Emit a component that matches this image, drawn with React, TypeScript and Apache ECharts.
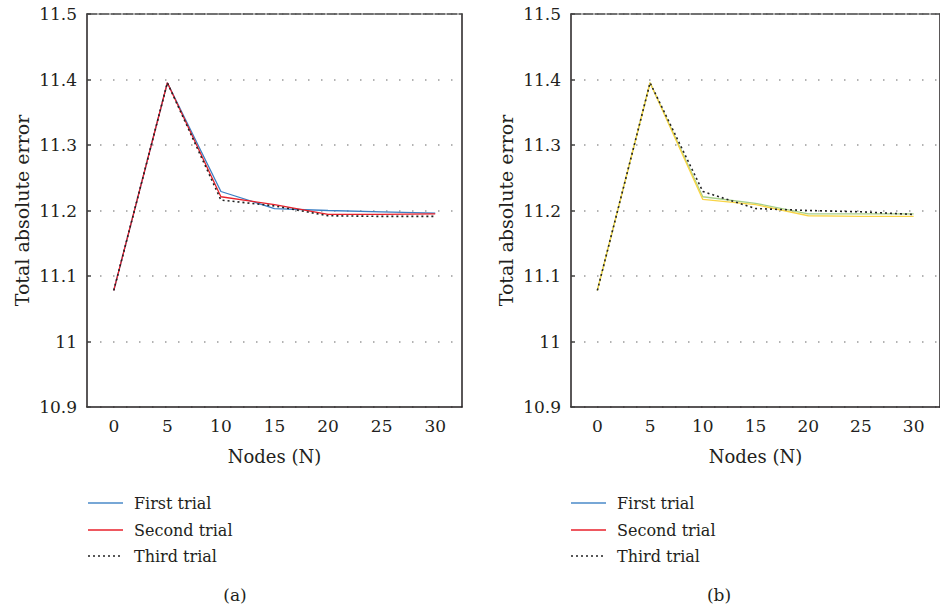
import React, { useEffect, useRef } from "react";
import * as echarts from "echarts";

const nodes = ["0", "5", "10", "15", "20", "25", "30"];
// panel (a)
const aFirst = [11.078, 11.395, 11.229, 11.203, 11.2, 11.198, 11.196];
const aSecond = [11.078, 11.395, 11.221, 11.209, 11.194, 11.194, 11.195];
const aThird = [11.078, 11.395, 11.216, 11.207, 11.192, 11.191, 11.191];
// panel (b)
const bFirst = [11.078, 11.395, 11.221, 11.211, 11.195, 11.195, 11.195];
const bSecond = [11.078, 11.395, 11.217, 11.209, 11.192, 11.191, 11.191];
const bThird = [11.078, 11.395, 11.229, 11.203, 11.2, 11.198, 11.194];

const yMin = 10.9;
const yMax = 11.5;
const yStep = 0.1;
const legendNames = ["First trial", "Second trial", "Third trial"];
const panelLabels = ["(a)", "(b)"];
const xName = "Nodes (N)";
const yName = "Total absolute error";

const FONT = "DejaVu Serif";
const TXT = "#231f20";

export default function App() {
  const ref = useRef<HTMLDivElement>(null);
  useEffect(() => {
    if (!ref.current) return;
    const chart = echarts.init(ref.current, undefined, { renderer: "svg" });
    const grids = [
      { left: 87, top: 14, width: 375, height: 393 },
      { left: 571, top: 14, width: 375, height: 393 },
    ];
    const xAxes: any[] = [];
    const yAxes: any[] = [];
    grids.forEach((g, i) => {
      xAxes.push({
        type: "category",
        gridIndex: i,
        data: nodes,
        boundaryGap: true,
        name: xName,
        nameLocation: "middle",
        nameGap: 40,
        nameTextStyle: { fontFamily: FONT, fontSize: 18, color: TXT },
        axisLine: { lineStyle: { color: TXT, width: 1.5 } },
        axisTick: { inside: true, length: 6, lineStyle: { color: TXT, width: 1.2 } },
        axisLabel: { fontFamily: FONT, fontSize: 17, color: TXT, margin: 10 },
        splitLine: { show: false },
      });
      xAxes.push({
        type: "category",
        gridIndex: i,
        data: nodes,
        position: "top",
        axisLine: { lineStyle: { color: "#444", width: 1.5, type: [10, 2] } },
        axisTick: { show: false },
        axisLabel: { show: false },
        splitLine: { show: false },
      });
      yAxes.push({
        type: "value",
        gridIndex: i,
        min: yMin,
        max: yMax,
        interval: yStep,
        name: yName,
        nameLocation: "middle",
        nameGap: 56,
        nameRotate: 90,
        nameTextStyle: { fontFamily: FONT, fontSize: 19, color: TXT },
        axisLine: { show: true, lineStyle: { color: TXT, width: 1.5 } },
        axisTick: { show: true, inside: true, length: 4, lineStyle: { color: "#444", width: 1.5 } },
        axisLabel: { fontFamily: FONT, fontSize: 17, color: TXT, margin: 10 },
        splitLine: { show: true, lineStyle: { color: "#9a9a9a", width: 1.5, type: [1.5, 11.5] } },
      });
      yAxes.push({
        type: "value",
        gridIndex: i,
        min: yMin,
        max: yMax,
        interval: yStep,
        position: "right",
        axisLine: { show: true, lineStyle: { color: TXT, width: 1.5 } },
        axisTick: { show: false },
        axisLabel: { show: false },
        splitLine: { show: false },
      });
    });

    const mk = (name: string, data: number[], idx: number, color: string, dotted: boolean, z: number) => ({
      name,
      type: "line",
      xAxisIndex: idx * 2,
      yAxisIndex: idx * 2,
      data,
      symbol: "none",
      z,
      lineStyle: dotted
        ? { color: "#222", width: 1.6, type: [2, 3] }
        : { color, width: 1.3 },
    });

    const series = [
      mk(legendNames[0], aFirst, 0, "#3b7fc4", false, 2),
      mk(legendNames[1], aSecond, 0, "#e8212b", false, 3),
      mk(legendNames[2], aThird, 0, "#222", true, 4),
      mk(legendNames[0], bFirst, 1, "#a5d08a", false, 2),
      mk(legendNames[1], bSecond, 1, "#f9d548", false, 3),
      mk(legendNames[2], bThird, 1, "#222", true, 4),
    ];

    const legendColors = ["#4a8ac8", "#e8212b", "#222"];
    const rowsY = [503, 530, 556];
    const legendX = [88, 571];
    const graphic: any[] = [];
    legendX.forEach((lx, p) => {
      rowsY.forEach((ry, r) => {
        graphic.push({
          type: "line",
          shape: { x1: lx, y1: ry, x2: lx + 35, y2: ry },
          style: {
            stroke: legendColors[r],
            lineWidth: r === 2 ? 1.4 : 1.3,
            lineDash: r === 2 ? [2, 3] : null,
          },
        });
        graphic.push({
          type: "text",
          x: lx + 46,
          y: ry,
          style: {
            text: legendNames[r],
            fontFamily: FONT,
            fontSize: 16,
            fill: TXT,
            verticalAlign: "middle",
            align: "left",
          },
        });
      });
      graphic.push({
        type: "text",
        x: p === 0 ? 235 : 719,
        y: 595,
        style: {
          text: panelLabels[p],
          fontFamily: FONT,
          fontSize: 17,
          fill: TXT,
          verticalAlign: "middle",
          align: "center",
        },
      });
    });

    chart.setOption({
      animation: false,
      backgroundColor: "#fff",
      grid: grids,
      xAxis: xAxes,
      yAxis: yAxes,
      series,
      graphic,
    });
    return () => chart.dispose();
  }, []);
  return (
    <div style={{ position: "absolute", left: 0, top: 0, width: 940, height: 612, overflow: "hidden", background: "#fff" }}>
      <div ref={ref} style={{ width: 940, height: 612 }} />
    </div>
  );
}
